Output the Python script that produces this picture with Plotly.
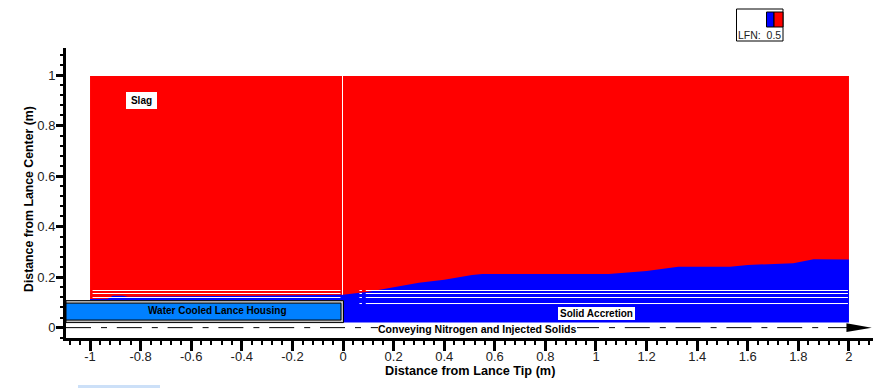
import plotly.graph_objects as go

# Data
boundary_x = [-1, -0.93, -0.91, -0.87, -0.85, -0.5, 0, 0.1, 0.2, 0.3, 0.4, 0.51, 0.55, 1.05, 1.2, 1.325, 1.53, 1.6, 1.78, 1.86, 2]
boundary_y = [0.113, 0.114, 0.126, 0.126, 0.122, 0.125, 0.13, 0.142, 0.16, 0.178, 0.19, 0.208, 0.212, 0.212, 0.224, 0.241, 0.241, 0.248, 0.255, 0.271, 0.27]
slag_x = [-1, 2, 2, -1]
slag_y = [0.107, 0.107, 0.996, 0.996]
accretion_floor_right = 0.02
housing_top = 0.107
housing_floor = 0.02
white_line_y = [0.147, 0.1351, 0.1193]
white_line_right_only_y = [0.0955]
tip_x = [-0.002, -0.002]
tip_y = [0.13, 0.996]
centerline_x = [-1.095, 2.0]
centerline_y = [0, 0]
arrow_x = [1.99, 2.09, 1.99, 1.99]
arrow_y = [0.017, 0, -0.017, 0.017]
x_ticks = [-1, -0.8, -0.6, -0.4, -0.2, 0, 0.2, 0.4, 0.6, 0.8, 1, 1.2, 1.4, 1.6, 1.8, 2]
x_tick_labels = ["-1", "-0.8", "-0.6", "-0.4", "-0.2", "0", "0.2", "0.4", "0.6", "0.8", "1", "1.2", "1.4", "1.6", "1.8", "2"]
y_ticks = [0, 0.2, 0.4, 0.6, 0.8, 1]
y_tick_labels = ["0", "0.2", "0.4", "0.6", "0.8", "1"]

# The page has an 8 px body margin, so the figure is 8 px smaller than the window
PAGE = 8
W, H = 887 - PAGE, 388 - PAGE
L, R, T, B = 66 - PAGE, 14, 48 - PAGE, 50
FONT = "Liberation Sans"
RED, BLUE = "#FF0000", "#0000FF"


def px(x):
    return (x - PAGE - L) / (W - L - R)


def py(y):
    return 1 - (y - PAGE - T) / (H - T - B)


fig = go.Figure()
fig.add_trace(go.Scatter(x=slag_x, y=slag_y, fill="toself", fillcolor=RED, mode="none", hoverinfo="skip"))
blue_x = boundary_x + [2, 0, 0, -1]
blue_y = boundary_y + [accretion_floor_right, accretion_floor_right, housing_top, housing_top]
fig.add_trace(go.Scatter(x=blue_x, y=blue_y, fill="toself", fillcolor=BLUE, mode="none", hoverinfo="skip"))

wl = dict(color="white", width=1)
for yv in white_line_y:
    fig.add_trace(go.Scatter(x=[-0.99, -0.01], y=[yv, yv], mode="lines", line=wl, hoverinfo="skip"))
    fig.add_trace(go.Scatter(x=[0.09, 1.996], y=[yv, yv], mode="lines", line=wl, hoverinfo="skip"))
    fig.add_trace(go.Scatter(x=[0.065, 0.075], y=[yv, yv], mode="lines", line=wl, hoverinfo="skip"))
for yv in white_line_right_only_y:
    fig.add_trace(go.Scatter(x=[0.09, 1.996], y=[yv, yv], mode="lines", line=wl, hoverinfo="skip"))
    fig.add_trace(go.Scatter(x=[0.065, 0.075], y=[yv, yv], mode="lines", line=wl, hoverinfo="skip"))
fig.add_trace(go.Scatter(x=tip_x, y=tip_y, mode="lines", line=wl, hoverinfo="skip"))

fig.add_trace(go.Scatter(x=centerline_x, y=centerline_y, mode="lines",
                         line=dict(color="black", width=1, dash="25px,10px,6px,9.8px"), hoverinfo="skip"))
fig.add_trace(go.Scatter(x=arrow_x, y=arrow_y, fill="toself", fillcolor="black", mode="none", hoverinfo="skip"))

shapes = [
    # Water cooled housing: gray jacket and blue core
    dict(type="rect", xref="x", yref="y", x0=-1.095, x1=0.002, y0=housing_floor, y1=housing_top,
         fillcolor="#C0C0C0", line=dict(color="black", width=1), layer="above"),
    dict(type="rect", xref="x", yref="y", x0=-1.095, x1=-0.008, y0=0.03, y1=0.097,
         fillcolor="#0080FF", line=dict(color="black", width=1), layer="above"),
    # LFN legend
    dict(type="rect", xref="paper", yref="paper", x0=px(736.5), x1=px(783), y0=py(41), y1=py(9),
         fillcolor="white", line=dict(color="black", width=1)),
    dict(type="rect", xref="paper", yref="paper", x0=px(766.5), x1=px(774), y0=py(27), y1=py(12),
         fillcolor=BLUE, line=dict(color="black", width=1)),
    dict(type="rect", xref="paper", yref="paper", x0=px(774), x1=px(783), y0=py(27), y1=py(12),
         fillcolor=RED, line=dict(color="black", width=1)),
    # pale strip at the lower edge of the picture
    dict(type="rect", xref="paper", yref="paper", x0=px(78), x1=px(160), y0=py(388), y1=py(385),
         fillcolor="#CCE0F8", line=dict(width=0)),
]

annotations = [
    dict(x=px(141.5), y=py(100.5), text="<b>Slag</b>", bgcolor="white", width=31, height=17, size=10),
    dict(x=px(596.5), y=py(313.5), text="<b>Solid Accretion</b>", bgcolor="white", width=77, height=13, size=10),
    dict(x=px(217), y=py(310), text="<b>Water Cooled Lance Housing</b>", size=10),
    dict(x=px(477), y=py(329), text="<b>Conveying Nitrogen and Injected Solids</b>", bgcolor="white", size=10.5),
]
for a in annotations:
    a.update(xref="paper", yref="paper", showarrow=False, xanchor="center", yanchor="middle",
             borderpad=0, borderwidth=0,
             font=dict(family=FONT, size=a.pop("size"), color="black"))
annotations.append(dict(x=px(759), y=py(35), xref="paper", yref="paper", showarrow=False,
                        text="LFN:  0.5", font=dict(family=FONT, size=10.5, color="#222"),
                        xanchor="center", yanchor="middle"))
annotations.append(dict(x=px(29), y=py(199), xref="paper", yref="paper", showarrow=False,
                        text="<b>Distance from Lance Center (m)</b>", textangle=-90,
                        font=dict(family=FONT, size=12.3, color="black"),
                        xanchor="center", yanchor="middle"))
annotations.append(dict(x=px(470), y=py(371), xref="paper", yref="paper", showarrow=False,
                        text="<b>Distance from Lance Tip (m)</b>", borderpad=0,
                        font=dict(family=FONT, size=12.7, color="black"),
                        xanchor="center", yanchor="middle"))

fig.update_layout(
    width=W, height=H, autosize=False, showlegend=False,
    margin=dict(l=L, r=R, t=T, b=B, pad=0, autoexpand=False),
    plot_bgcolor="white", paper_bgcolor="white",
    shapes=shapes, annotations=annotations,
    font=dict(family=FONT, color="#222"),
)
fig.update_xaxes(
    range=[-1.095, 2.095], showgrid=False, zeroline=False, automargin=False,
    showline=True, linecolor="black", linewidth=3,
    tickmode="array", tickvals=x_ticks, ticktext=x_tick_labels, tickangle=0,
    ticks="outside", ticklen=10, tickwidth=3, tickcolor="black", ticklabelstandoff=-6,
    tickfont=dict(family=FONT, size=13, color="#222"),
    minor=dict(ticks="outside", tick0=0, dtick=0.04, ticklen=4, tickwidth=1.5, tickcolor="black", showgrid=False),
)
fig.update_yaxes(
    range=[-0.041, 1.107], showgrid=False, zeroline=False, automargin=False,
    showline=True, linecolor="black", linewidth=3,
    tickmode="array", tickvals=y_ticks, ticktext=y_tick_labels,
    ticks="outside", ticklen=7, tickwidth=3, tickcolor="black", ticklabelstandoff=-2,
    tickfont=dict(family=FONT, size=13, color="#222"),
    minor=dict(ticks="outside", tick0=0, dtick=0.04, ticklen=3, tickwidth=1.5, tickcolor="black", showgrid=False),
)
fig.write_html("out.html")
